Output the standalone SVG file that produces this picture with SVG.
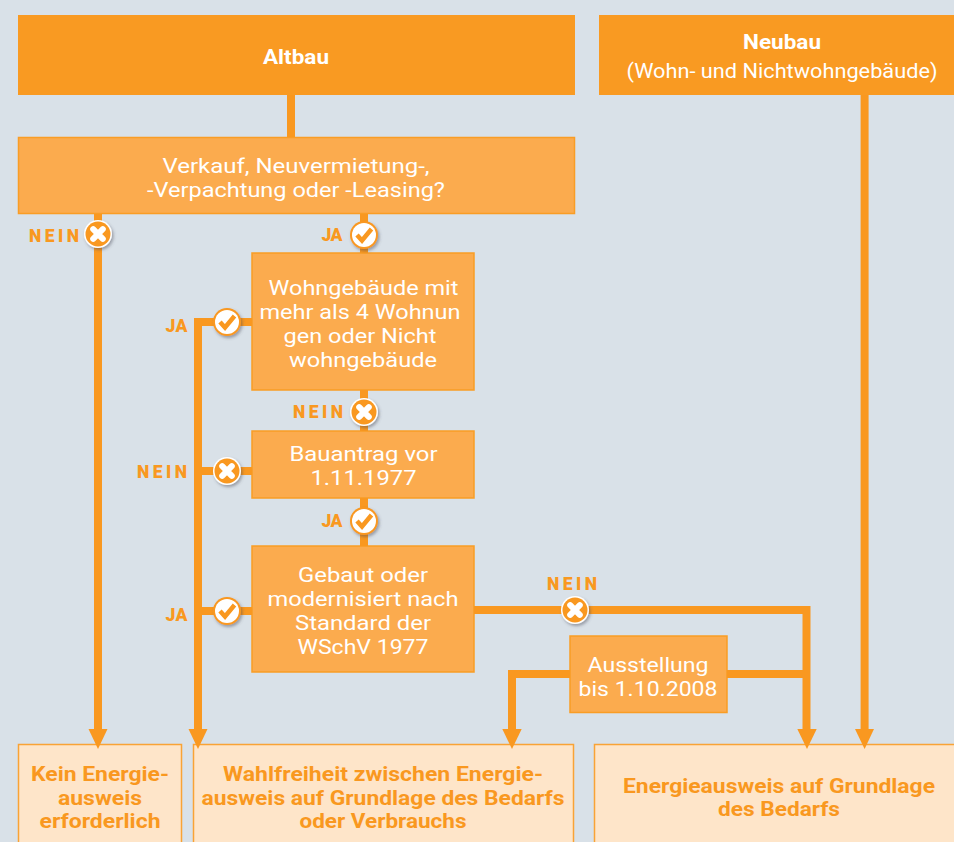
<svg xmlns="http://www.w3.org/2000/svg" width="954" height="842" viewBox="0 0 954 842">
<style>
text{font-family:Roboto,"Noto Sans","Liberation Sans",sans-serif;text-anchor:middle}
.h{fill:#f99a22}
.q{fill:#fbab4e;stroke:#f99d25;stroke-width:1.5}
.r{fill:#fee5c9;stroke:#f9a335;stroke-width:1.5}
.l{fill:none;stroke:#f99820;stroke-width:8}
.a{fill:#f99820}
.w{fill:#fff;font-size:20.500px}
.hb{fill:#fff;font-size:20.500px;font-weight:700}
.o{fill:#f99820;font-size:20.500px;font-weight:700}
.t{fill:#f99820;font-size:17.500px;font-weight:900}
</style>
<defs>
<filter id="s" x="-40%" y="-40%" width="190%" height="190%"><feDropShadow dx="1.5" dy="2" stdDeviation="1.5" flood-color="#445" flood-opacity=".45"/></filter>
<g id="no"><circle r="14" fill="#fff" filter="url(#s)"/><circle r="12.500" fill="#f99820"/><path d="M-4.800-4.800 4.800 4.800M4.800-4.800-4.800 4.800" stroke="#fff" stroke-width="6" stroke-linecap="round"/></g>
<g id="yes"><circle r="14" fill="#f99820" filter="url(#s)"/><circle r="12" fill="#fff"/><path d="M-7 0-2 5.500 7.500-6" fill="none" stroke="#f99820" stroke-width="4.500"/></g>
</defs>
<rect width="954" height="842" fill="#d9e1e8"/>
<g id="altbau"><rect class="h" x="18" y="15" width="557" height="80"/><text class="hb" x="296" y="64" textLength="66" lengthAdjust="spacingAndGlyphs">Altbau</text></g>
<g id="neubau"><rect class="h" x="599" y="15" width="355" height="80"/><text class="hb" x="782" y="49" textLength="78" lengthAdjust="spacingAndGlyphs">Neubau</text><text class="w" x="782" y="78" textLength="311" lengthAdjust="spacingAndGlyphs">(Wohn- und Nichtwohngebäude)</text></g>
<g id="frage"><rect class="q" x="18.500" y="137.500" width="556" height="76"/><text class="w" x="296" y="173" textLength="267" lengthAdjust="spacingAndGlyphs">Verkauf, Neuvermietung-,</text><text class="w" x="296" y="197" textLength="298" lengthAdjust="spacingAndGlyphs">-Verpachtung oder -Leasing?</text></g>
<g id="wohngebaeude"><rect class="q" x="252" y="253" width="222" height="137"/>
<text class="w" x="363.500" y="295" textLength="190" lengthAdjust="spacingAndGlyphs">Wohngebäude mit</text><text class="w" x="360" y="319" textLength="201" lengthAdjust="spacingAndGlyphs">mehr als 4 Wohnun</text><text class="w" x="360" y="343" textLength="153" lengthAdjust="spacingAndGlyphs">gen oder Nicht</text><text class="w" x="363" y="367" textLength="148" lengthAdjust="spacingAndGlyphs">wohngebäude</text></g>
<g id="bauantrag"><rect class="q" x="252" y="431" width="222" height="67"/><text class="w" x="363.500" y="461" textLength="148" lengthAdjust="spacingAndGlyphs">Bauantrag vor</text><text class="w" x="363.500" y="485" textLength="106" lengthAdjust="spacingAndGlyphs">1.11.1977</text></g>
<g id="gebaut"><rect class="q" x="252" y="546" width="222" height="126"/><text class="w" x="363" y="582" textLength="130" lengthAdjust="spacingAndGlyphs">Gebaut oder</text><text class="w" x="363" y="606" textLength="191" lengthAdjust="spacingAndGlyphs">modernisiert nach</text><text class="w" x="363" y="630" textLength="136" lengthAdjust="spacingAndGlyphs">Standard der</text><text class="w" x="363" y="654" textLength="131" lengthAdjust="spacingAndGlyphs">WSchV 1977</text></g>
<g id="ausstellung"><rect class="q" x="570" y="636" width="157" height="76.500"/><text class="w" x="648" y="672" textLength="121" lengthAdjust="spacingAndGlyphs">Ausstellung</text><text class="w" x="648" y="696" textLength="139" lengthAdjust="spacingAndGlyphs">bis 1.10.2008</text></g>
<g id="kein"><rect class="r" x="18.500" y="744.500" width="163" height="100"/><text class="o" x="100" y="781" textLength="138" lengthAdjust="spacingAndGlyphs">Kein Energie-</text><text class="o" x="100" y="805" textLength="84" lengthAdjust="spacingAndGlyphs">ausweis</text><text class="o" x="100" y="828" textLength="121" lengthAdjust="spacingAndGlyphs">erforderlich</text></g>
<g id="wahl"><rect class="r" x="193.500" y="744.500" width="380" height="100"/><text class="o" x="383" y="781" textLength="320" lengthAdjust="spacingAndGlyphs">Wahlfreiheit zwischen Energie-</text><text class="o" x="383" y="805" textLength="363" lengthAdjust="spacingAndGlyphs">ausweis auf Grundlage des Bedarfs</text><text class="o" x="383" y="828" textLength="167" lengthAdjust="spacingAndGlyphs">oder Verbrauchs</text></g>
<g id="energieausweis"><rect class="r" x="594.500" y="744.500" width="362" height="100"/><text class="o" x="779" y="793" textLength="312" lengthAdjust="spacingAndGlyphs">Energieausweis auf Grundlage</text><text class="o" x="779" y="816" textLength="122" lengthAdjust="spacingAndGlyphs">des Bedarfs</text></g>
<g id="connectors">
<path class="l" d="M291 95V137"/>
<path class="l" d="M98 214V730"/>
<path class="a" d="M88.500 729H107.500L98 749z"/>
<path class="l" d="M364 214V253M364 390V431M364 498V546"/>
<path class="l" d="M252 322H198V730M252 471H198M252 611H198"/>
<path class="a" d="M188.500 729H207.500L198 749z"/>
<path class="l" d="M474 610H806.500V730M727 674H806.500"/>
<path class="a" d="M797.300 729H816.700L807 749z"/>
<path class="l" d="M570 674H512V730"/>
<path class="a" d="M502.300 729H521.700L512 749z"/>
<path class="l" d="M864.600 95V730"/>
<path class="a" d="M855 729H874L864.600 749z"/>
</g>
<g id="badges">
<use href="#no" x="98" y="234"/><text class="t" x="54" y="242" textLength="50">NEIN</text>
<use href="#yes" x="364" y="235"/><text class="t" x="332" y="241" textLength="21">JA</text>
<use href="#yes" x="227" y="322"/><text class="t" x="176.500" y="332" textLength="22">JA</text>
<use href="#no" x="364" y="412"/><text class="t" x="318" y="418" textLength="50">NEIN</text>
<use href="#no" x="227" y="471"/><text class="t" x="162" y="478" textLength="50">NEIN</text>
<use href="#yes" x="364" y="521"/><text class="t" x="332" y="527" textLength="21">JA</text>
<use href="#yes" x="227" y="611"/><text class="t" x="176.500" y="621" textLength="22">JA</text>
<use href="#no" x="575" y="610"/><text class="t" x="572" y="590" textLength="50">NEIN</text>
</g>
</svg>
